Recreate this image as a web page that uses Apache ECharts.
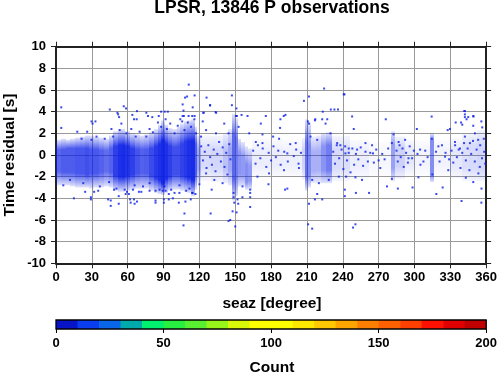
<!DOCTYPE html>
<html>
<head>
<meta charset="utf-8">
<script src="https://cdn.jsdelivr.net/npm/echarts@6/dist/echarts.min.js"></script>
<style>html,body{margin:0;padding:0;background:#fff}#c{width:500px;height:375px}</style>
</head>
<body>
<div id="c"></div>
<script>
// ---- data ----
const titleText = 'LPSR, 13846 P observations';
const xName = 'seaz [degree]';
const yName = 'Time residual [s]';
const cbName = 'Count';

// density of the point cloud per azimuth column:
// [az0, az1, outerLow, coreLow, coreHigh, outerHigh, core fill fraction]
const densityColumns = [
  [0,4,-2.8,-1.5,0.5,1.4,.68],[4,8,-2.8,-1.6,0.5,1.5,.72],[8,12,-2.8,-1.6,0.6,1.4,.72],
  [12,16,-2.9,-1.6,0.6,1.5,.72],[16,20,-3.0,-1.7,0.6,1.6,.75],[20,24,-3.0,-1.7,0.6,1.7,.75],
  [24,28,-3.0,-1.8,0.6,1.8,.78],[28,32,-3.1,-1.7,0.5,1.8,.75],[32,36,-3.0,-1.7,0.5,1.7,.74],
  [36,40,-3.0,-1.6,0.4,1.6,.7],[40,44,-2.9,-1.5,0.4,1.5,.65],[44,48,-3.0,-1.6,0.6,1.8,.7],
  [48,52,-3.3,-1.9,0.8,2.2,.85],[52,55,-3.4,-2.0,0.9,2.4,.92],[55,58,-3.4,-2.0,0.9,2.4,.94],
  [58,62,-3.3,-1.9,0.8,2.2,.9],[62,66,-3.2,-1.8,0.6,2.0,.85],[66,70,-3.1,-1.7,0.5,1.9,.76],
  [70,74,-3.1,-1.7,0.5,1.8,.7],[74,78,-3.1,-1.7,0.5,1.9,.72],[78,82,-3.3,-1.9,0.6,2.1,.8],
  [82,85,-3.5,-2.1,0.8,2.4,.88],[85,88,-3.6,-2.3,1.0,2.8,.92],[88,91,-3.7,-2.6,1.3,3.2,.95],
  [91,94,-3.5,-2.2,1.0,2.8,.92],[94,97,-3.3,-2.0,0.8,2.5,.85],[97,101,-3.2,-1.8,0.7,2.4,.78],
  [101,104,-3.2,-1.8,0.8,2.6,.78],[104,107,-3.3,-1.9,1.0,2.9,.84],[107,110,-3.4,-2.0,1.2,3.1,.88],
  [110,113,-3.5,-2.1,1.3,3.2,.92],[113,116,-3.8,-2.3,1.3,3.3,.94],[116,118,-3.2,-1.8,1.0,2.6,.72],
  [118,121,-2.6,-1.3,0.5,1.8,.4],[121,130,-2.4,-1.0,0.5,1.8,.16],[130,140,-2.5,-1.1,0.4,1.8,.18],
  [140,144,-2.6,-1.3,0.4,2.0,.28],[144,147,-2.8,-1.4,0.6,2.4,.4],[147,150,-4.2,-2.2,1.8,3.8,.68],
  [150,152,-3.8,-2.0,1.5,3.4,.58],[152,155,-2.9,-1.7,0.2,1.5,.48],[155,158,-2.9,-1.8,-0.1,1.2,.45],
  [158,161,-3.2,-2.5,-0.9,0.8,.5],[161,164,-3.2,-2.4,-1.0,0.6,.45],[164,175,-2.0,-1.0,0.3,1.5,.08],
  [175,190,-2.0,-1.0,0.3,1.5,.08],[190,206,-2.0,-1.0,0.3,1.4,.07],[206,208,-2.3,-1.2,0.5,1.6,.2],
  [208,211,-3.3,-2.0,1.2,3.3,.62],[211,213,-3.0,-1.8,0.9,3.0,.52],[213,218,-2.6,-1.5,0.3,1.7,.35],
  [218,222,-2.6,-1.4,0.4,1.8,.35],[222,226,-2.6,-1.4,0.8,2.0,.48],[226,231,-2.6,-1.4,0.9,2.1,.58],
  [231,238,-2.4,-1.2,0.6,1.8,.16],[238,246,-2.4,-1.2,0.6,1.8,.15],[246,262,-2.3,-1.0,0.4,1.4,.08],
  [262,280,-2.0,-0.8,0.3,1.2,.04],[280,284,-2.4,-1.2,1.0,2.2,.42],[284,292,-2.2,-1.0,0.6,1.7,.2],
  [292,300,-1.9,-0.8,0.4,1.4,.1],[300,313,-1.9,-0.8,0.4,1.4,.05],[313,316,-2.5,-1.8,1.4,2.0,.5],
  [316,330,-1.9,-0.8,0.4,1.4,.06],[330,340,-2.2,-1.0,0.6,1.6,.1],[340,346,-2.4,-1.2,0.9,2.0,.14],
  [346,352,-2.4,-1.2,0.9,2.0,.16],[352,356,-2.4,-1.2,1.0,2.3,.18],[356,360,-2.4,-1.3,1.0,2.3,.18]
];

// individual observations: [seaz, residual]
const outliers = [
  [4.4,4.4],[4.4,2.5],[45,4.2],[56.7,4.5],[58.6,4.3],[51.4,3.9],[67.8,4.05],[88,4.0],[91,4.0],[93.6,4.0],
  [106.7,4.1],[123.3,3.9],[133.6,3.96],[111.1,6.5],[108,5.3],[109.7,5.4],[116,5.5],[126,5.3],[147.2,5.5],
  [147.2,4.6],[151,4.3],[106,4.67],[114.4,4.4],[128.9,4.58],[224.4,6.14],[240.8,5.6],[211.7,5.4],[207.5,5.0],
  [230,4.2],[233,4.2],[236,4.2],[223.3,4.0],[342.2,4.05],[314.4,3.55],[342.2,3.5],[345,3.5],[349.4,3.55],
  [247.8,3.56],[276,3.3],[175.6,3.6],[160.3,3.6],[155.3,3.7],[151.4,3.6],[190.6,3.6],[192,3.7],[187.8,3.3],
  [217,3.3],[222.8,3.3],[227,3.3],[77,3.6],[80.6,3.5],[86,3.6],[63.9,3.7],[65.3,3.3],[67.5,3.3],[52.8,3.5],
  [106,3.6],[107,3.6],[111,3.6],[114,3.6],[116,3.6],[104,3.3],[29.7,3.1],[33,3.1],[52,3.75],[75.6,3.9],
  [123.6,3.9],[129,4.6],[134,3.9],[187.5,2.5],[171.4,2.9],[172.8,1.9],[181.7,1.7],[216.7,3.2],[210.8,3.1],
  [241.4,5.6],[249.2,2.4],[302,2.4],[327.8,2.3],[329.7,2.4],[334.5,3.0],[339,3.0],[340,2.8],[341.7,4.06],
  [342.2,3.75],[349.2,3.6],[349.2,2.7],[343.6,3.3],[356,3.1],[356.7,2.55],
  [30.6,2.9],[17.8,2.15],[26.1,2.15],[21.4,1.5],[29.7,1.4],[33.9,1.7],[40.8,1.5],[46.4,2.4],[47.8,1.7],
  [53.3,2.3],[54.7,2.9],[58.9,2.0],[63,2.4],[66.7,1.7],[70,2.15],[75.6,1.7],[78.3,2.4],[81.1,2.1],[85.3,3.0],
  [88,2.6],[91.7,3.3],[92.8,2.4],[95.6,2.9],[99.2,2.0],[101.9,2.7],[105.6,3.1],[107.5,2.3],[110.3,3.0],
  [113,2.6],[115.8,3.3],[117.2,2.0],[121.4,1.7],[125.6,2.3],
  [122.8,3.1],[133.9,2.0],[140.8,2.9],[144.4,2.0],[150.6,3.6],[152.8,2.6],[161.7,2.0],[167.2,1.2],[172.8,1.1],
  [186.7,1.5],[193.6,0.15],[200.6,1.1],[211.7,2.9],[213,1.7],[218.6,1.4],[225.6,2.9],[229.7,2.0],[235.3,1.1],
  [242.2,0.15],[238,0.9],[245,0.6],[252,0.5],[259,1.1],[264.5,0.9],[265.3,0.15],[270,-0.5],[271.4,-1.2],
  [281.1,1.1],[282.5,1.9],[286.7,1.2],[292.2,1.4],[295,-0.3],[304.7,0.5],[307.5,-0.6],[314.5,1.5],[315,-1.8],
  [320,0.8],[325.6,-0.15],[328.3,-1.4],[333.9,1.2],[338.1,0.6],[342.2,1.7],[346.4,1.1],[350.6,2.0],[353.3,1.4],
  [354.7,-1.1],[358.3,0.3],
  [6.1,-2.8],[11.7,-2.3],[22.8,-2.6],[36.7,-2.9],[44.4,-2.5],[50.6,-3.1],[57.5,-3.2],[65.8,-2.8],[72.8,-2.9],
  [78.3,-2.6],[86.7,-3.2],[90.8,-2.9],[96.4,-3.2],[103.3,-2.8],[111.7,-3.1],[114.4,-3.5],
  [125.6,-1.7],[132.5,-2.3],[139.4,-2.6],[156.1,-2.9],[168.6,-2.0],[178.3,-1.7],[190.8,-1.4],[203.3,-1.2],
  [214.4,-2.3],[220,-2.6],[228.3,-2.3],[236.7,-2.0],[242.8,-2.0],[250.6,-2.06],[256.1,-2.3],[281.1,-2.2],
  [303.3,-2.06],[349.2,-2.5],[343,-2.1],
  [24.4,-3.4],[31.9,-3.4],[35.3,-3.3],[48.6,-3.2],[61,-3.6],[64.4,-3.2],[69.4,-3.4],[71.4,-3.4],[78.3,-3.3],
  [83.3,-3.3],[89.4,-3.3],[91.7,-3.3],[94.4,-3.6],[99.2,-3.5],[103.3,-3.5],[108.9,-3.3],[113.9,-3.5],[116.7,-3.6],
  [58.3,-3.6],[59.4,-3.4],[65.3,-4.1],[62,-4.1],
  [15,-4.0],[29.2,-3.9],[29.2,-4.1],[43.6,-4.1],[45.8,-4.2],[45.8,-4.7],[52.5,-4.5],[52.5,-3.8],[62.5,-4.4],
  [65.8,-4.5],[67.8,-4.3],[83.3,-4.4],[83.3,-4.2],[90.3,-4.4],[90.3,-4.1],[94.4,-4.1],[97.8,-4.0],[102.8,-4.4],
  [107.5,-5.4],[106.7,-6.5],[108.3,-4.3],[112.8,-4.1],[129.4,-5.4],[144.4,-6.1],[145.8,-6.0],[147.8,-5.2],
  [150,-6.6],[149.2,-4.4],[151.1,-5.3],[152.5,-4.5],[151.9,-4.1],[156,-3.9],[162.5,-3.9],[162.5,-4.8],
  [162.5,-3.5],[162.5,-3.2],[148.6,-3.9],[148.6,-3.5],[193.6,-3.1],[211.7,-4.5],[211,-6.4],[214.4,-6.8],
  [216.7,-4.1],[218.6,-3.6],[222.8,-4.1],[241.7,-3.8],[241.7,-3.2],[250.6,-6.4],[248.6,-6.7],[251,-3.5],
  [262,-3.5],[318.3,-3.6],[339.4,-4.25],[356,-4.4],[130.3,-3.2],[120,-2.7],[177.8,-2.7],[191.7,-3.2],
  [277,-2.9],[286.1,-3.1],[298.4,-3.0],[323.6,-3.0],[356.1,-3.1],
  // scattered points inside the sparse azimuth ranges
  [121.5,0.8],[123,-0.5],[124.5,0.3],[126,-1.2],[127.5,0.9],[129,-0.2],[130.5,-0.9],[132,0.5],[133.5,-1.5],
  [135,0.1],[136.5,1.2],[138,-0.6],[139.5,0.7],[141,-1.1],[142.5,0.2],[143.5,-1.8],[145,1.0],[146,-0.4],
  [165,0.4],[167,-0.8],[169,0.9],[171,-0.3],[173,0.6],[176,-1.1],[178,0.2],[180,-0.5],[182,0.8],[184,-0.2],
  [186,0.4],[188,-0.9],[191,0.3],[194,-0.6],[196,1.0],[199,-0.1],[201,0.5],[203,-0.8],[205,0.2],
  [232,0.3],[233.5,-0.8],[235,0.9],[237,-0.3],[239,0.5],[240.5,-1.3],[242,0.8],[243.5,-0.5],[245,0.2],
  [246.5,-1.6],[248,0.6],[249.5,-0.9],[251,0.1],[253,-0.4],[255,0.7],[257,-1.0],[259,0.3],[261,-0.6],
  [263,0.2],[266,-0.7],[268,0.5],[273,0.1],[275,-0.4],[278,0.6],
  [285,0.4],[286,-0.6],[287.5,0.9],[288.5,-0.2],[290,0.6],[291,-1.1],[293,0.2],[294.5,-0.7],[296,0.8],
  [298,-0.3],[299.5,0.4],[302.5,0.1],[305,-0.9],[309,0.4],[311,-0.2],[318,0.3],[321,-0.6],[323,0.9],
  [326,0.2],[329,-0.4],[331,0.4],[332.5,-0.7],[334,0.9],[335.5,-0.2],[337,0.5],[338.5,-1.2],[340,0.2],
  [341.5,1.1],[343,-0.5],[344.5,0.6],[346,-1.4],[347.5,0.1],[349,1.3],[350.5,-0.6],[352,0.5],[353.5,-1.7],
  [355,0.9],[356.5,-0.3],[358,1.5],[359.2,-0.8]
];

// colour bar
const countSteps = [0,10,20,30,40,50,60,70,80,90,100,110,120,130,140,150,160,170,180,190,200];
const countColors = ['#0814c8','#0a3cf0','#0a66e8','#00aaaa','#00f070','#28f040','#58f030','#98f51a',
  '#d8f80a','#ffff00','#ffff00','#ffe800','#ffc800','#ffa500','#ff8000','#ff6000','#ff4000','#ff1000',
  '#e00000','#c00000'];

// ---- chart ----
const FONT = "'Liberation Sans', Arial, Helvetica, sans-serif";
const frame = {color: '#222', width: 2};
const tickStyle = {show: true, inside: false, length: 5, lineStyle: {color: '#222', width: 1}};
const labelStyle = {color: '#000', fontSize: 13, fontWeight: 'bold', fontFamily: FONT};
const pointColor = '#0a1ee6';
const rgba = a => 'rgba(10,30,230,' + a + ')';

const chart = echarts.init(document.getElementById('c'), null, {renderer: 'canvas'});
chart.setOption({
  animation: false,
  backgroundColor: '#fff',
  grid: [
    {left: 56, top: 46.7, width: 432, height: 216.6, show: false},
    {left: 56, top: 320, width: 432, height: 9, show: true, borderColor: '#000', borderWidth: 1.3, z: 10, backgroundColor: 'transparent'}
  ],
  xAxis: [
    {gridIndex: 0, type: 'value', min: 0, max: 360, interval: 30, position: 'bottom',
     axisLine: {onZero: false, lineStyle: frame}, axisTick: tickStyle,
     axisLabel: Object.assign({margin: 8}, labelStyle),
     splitLine: {show: true, lineStyle: {color: '#999', width: 1}}},
    {gridIndex: 0, type: 'value', min: 0, max: 360, interval: 30, position: 'top',
     axisLine: {onZero: false, lineStyle: frame}, axisTick: tickStyle,
     axisLabel: {show: false}, splitLine: {show: false}},
    {gridIndex: 1, type: 'value', min: 0, max: 200, interval: 50, position: 'bottom',
     axisLine: {show: false, onZero: false}, axisTick: {show: true, length: 4, lineStyle: {color: '#000', width: 1}},
     axisLabel: Object.assign({margin: 8}, labelStyle), splitLine: {show: false}}
  ],
  yAxis: [
    {gridIndex: 0, type: 'value', min: -10, max: 10, interval: 2, position: 'left',
     axisLine: {onZero: false, lineStyle: frame}, axisTick: tickStyle,
     axisLabel: Object.assign({margin: 10}, labelStyle),
     splitLine: {show: true, lineStyle: {color: '#999', width: 1}}},
    {gridIndex: 0, type: 'value', min: -10, max: 10, interval: 2, position: 'right',
     axisLine: {onZero: false, lineStyle: frame}, axisTick: tickStyle,
     axisLabel: {show: false}, splitLine: {show: false}},
    {gridIndex: 1, type: 'value', min: 0, max: 1, show: false}
  ],
  series: [
    {
      type: 'custom', xAxisIndex: 0, yAxisIndex: 0, z: 2,
      data: densityColumns,
      encode: {x: [0, 1], y: [2, 5]},
      renderItem: function (params, api) {
        const oLo = api.value(2), cLo = api.value(3), cHi = api.value(4), oHi = api.value(5), d = api.value(6);
        const p0 = api.coord([api.value(0), oHi]);
        const p1 = api.coord([api.value(1), oLo]);
        const x0 = Math.round(p0[0]), x1 = Math.round(p1[0]);
        const span = oHi - oLo;
        const edge = Math.min(0.12, d * 0.25);
        const g = new echarts.graphic.LinearGradient(0, 0, 0, 1, [
          {offset: 0, color: rgba(edge)},
          {offset: (oHi - cHi) / span, color: rgba(d)},
          {offset: (oHi - cLo) / span, color: rgba(d)},
          {offset: 1, color: rgba(edge)}
        ]);
        return {type: 'rect', shape: {x: x0, y: p0[1], width: x1 - x0, height: p1[1] - p0[1]},
                style: {fill: g}};
      }
    },
    {
      type: 'scatter', xAxisIndex: 0, yAxisIndex: 0, z: 3,
      data: outliers, symbol: 'rect', symbolSize: 2,
      itemStyle: {color: pointColor}
    },
    {
      type: 'custom', xAxisIndex: 2, yAxisIndex: 2, z: 2,
      data: countColors.map((c, i) => [countSteps[i], countSteps[i + 1], i]),
      encode: {x: [0, 1]},
      renderItem: function (params, api) {
        const p0 = api.coord([api.value(0), 1]);
        const p1 = api.coord([api.value(1), 0]);
        return {type: 'rect', shape: {x: p0[0], y: p0[1], width: p1[0] - p0[0] + 0.5, height: p1[1] - p0[1]},
                style: {fill: countColors[api.value(2)]}};
      }
    }
  ],
  graphic: [
    {type: 'text', x: 272, y: 8.5, style: {text: titleText, font: "bold 17.5px " + FONT, fill: '#000',
      align: 'center', verticalAlign: 'middle', textAlign: 'center', textVerticalAlign: 'middle'}},
    {type: 'text', x: 272, y: 304, style: {text: xName, font: "bold 15.5px " + FONT, fill: '#000',
      align: 'center', verticalAlign: 'middle', textAlign: 'center', textVerticalAlign: 'middle'}},
    {type: 'text', x: 10, y: 155, rotation: Math.PI / 2, style: {text: yName, font: "bold 15.5px " + FONT, fill: '#000',
      align: 'center', verticalAlign: 'middle', textAlign: 'center', textVerticalAlign: 'middle'}},
    {type: 'text', x: 272, y: 368, style: {text: cbName, font: "bold 15.5px " + FONT, fill: '#000',
      align: 'center', verticalAlign: 'middle', textAlign: 'center', textVerticalAlign: 'middle'}}
  ]
});
</script>
</body>
</html>
